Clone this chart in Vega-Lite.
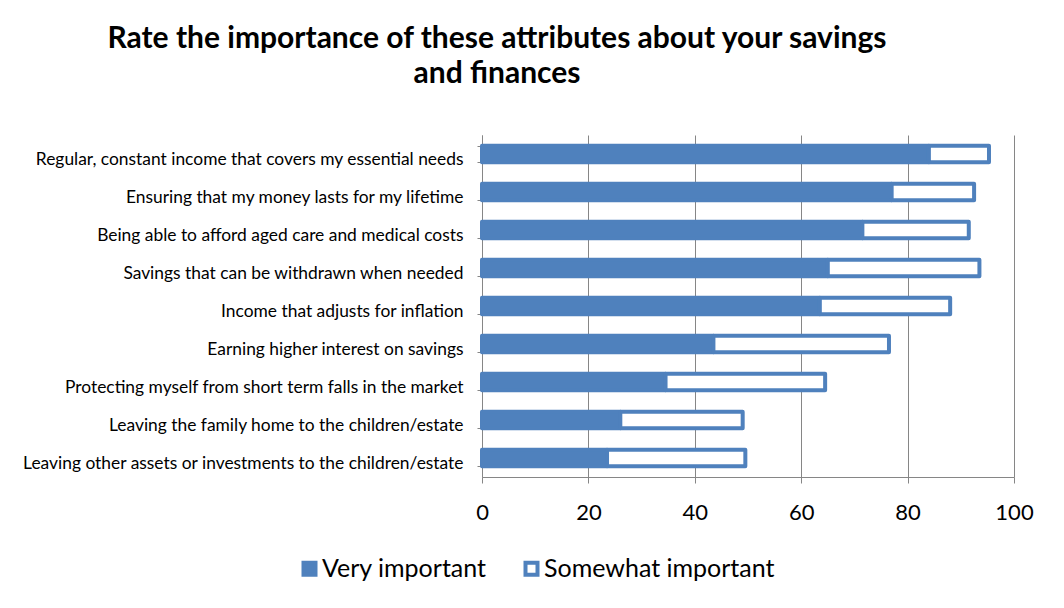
{
  "$schema": "https://vega.github.io/schema/vega-lite/v6.json",
  "width": 532,
  "height": 342,
  "autosize": {"type": "none"},
  "padding": {"left": 482, "top": 135, "right": 50, "bottom": 131},
  "background": "white",
  "title": {
    "text": ["Rate the importance of these attributes about your savings", "and finances"],
    "anchor": "middle",
    "frame": "group",
    "dx": -251,
    "offset": 37,
    "font": "Lato",
    "fontSize": 30,
    "fontWeight": "bold",
    "color": "#000000",
    "lineHeight": 35
  },
  "data": {
    "values": [
      {"attribute": "Regular, constant income that covers my essential needs", "series": "Very important", "ord": 0, "pct": 84},
      {"attribute": "Regular, constant income that covers my essential needs", "series": "Somewhat important", "ord": 1, "pct": 11.3},
      {"attribute": "Ensuring that my money lasts for my lifetime", "series": "Very important", "ord": 0, "pct": 77},
      {"attribute": "Ensuring that my money lasts for my lifetime", "series": "Somewhat important", "ord": 1, "pct": 15.5},
      {"attribute": "Being able to afford aged care and medical costs", "series": "Very important", "ord": 0, "pct": 71.5},
      {"attribute": "Being able to afford aged care and medical costs", "series": "Somewhat important", "ord": 1, "pct": 20},
      {"attribute": "Savings that can be withdrawn when needed", "series": "Very important", "ord": 0, "pct": 65},
      {"attribute": "Savings that can be withdrawn when needed", "series": "Somewhat important", "ord": 1, "pct": 28.5},
      {"attribute": "Income that adjusts for inflation", "series": "Very important", "ord": 0, "pct": 63.5},
      {"attribute": "Income that adjusts for inflation", "series": "Somewhat important", "ord": 1, "pct": 24.5},
      {"attribute": "Earning higher interest on savings", "series": "Very important", "ord": 0, "pct": 43.5},
      {"attribute": "Earning higher interest on savings", "series": "Somewhat important", "ord": 1, "pct": 33},
      {"attribute": "Protecting myself from short term falls in the market", "series": "Very important", "ord": 0, "pct": 34.5},
      {"attribute": "Protecting myself from short term falls in the market", "series": "Somewhat important", "ord": 1, "pct": 30},
      {"attribute": "Leaving the family home to the children/estate", "series": "Very important", "ord": 0, "pct": 26},
      {"attribute": "Leaving the family home to the children/estate", "series": "Somewhat important", "ord": 1, "pct": 23},
      {"attribute": "Leaving other assets or investments to the children/estate", "series": "Very important", "ord": 0, "pct": 23.5},
      {"attribute": "Leaving other assets or investments to the children/estate", "series": "Somewhat important", "ord": 1, "pct": 26}
    ]
  },
  "mark": {"type": "bar", "stroke": "#4F81BD", "strokeWidth": 4, "strokeJoin": "round"},
  "encoding": {
    "y": {
      "field": "attribute",
      "type": "nominal",
      "sort": null,
      "title": null,
      "scale": {"paddingInner": 0.57, "paddingOuter": 0.285},
      "axis": {
        "tickBand": "extent",
        "domainColor": "#868686",
        "tickColor": "#868686",
        "tickSize": 5,
        "labelPadding": 14,
        "labelFont": "Lato",
        "labelFontSize": 17.4,
        "labelColor": "#000000",
        "labelLimit": 600,
        "labelOffset": 5,
        "grid": false
      }
    },
    "x": {
      "field": "pct",
      "type": "quantitative",
      "stack": "zero",
      "title": null,
      "scale": {"domain": [0, 100], "nice": false},
      "axis": {
        "values": [0, 20, 40, 60, 80, 100],
        "grid": true,
        "gridColor": "#868686",
        "gridWidth": 1,
        "domainColor": "#868686",
        "tickColor": "#868686",
        "tickSize": 6,
        "labelPadding": 19,
        "labelFont": "Lato",
        "labelFontSize": 22,
        "labelColor": "#000000",
        "labelFlush": false
      }
    },
    "color": {
      "field": "series",
      "type": "nominal",
      "scale": {"domain": ["Very important", "Somewhat important"], "range": ["#4F81BD", "#FFFFFF"]},
      "legend": {
        "orient": "none",
        "legendX": -185,
        "legendY": 421,
        "direction": "horizontal",
        "title": null,
        "symbolType": "square",
        "symbolSize": 144,
        "symbolStrokeColor": "#4F81BD",
        "symbolStrokeWidth": 4,
        "symbolOpacity": 1,
        "labelFont": "Lato",
        "labelFontSize": 25,
        "labelColor": "#000000",
        "labelOffset": 0,
        "columnPadding": 30,
        "labelLimit": 400
      }
    },
    "order": {"field": "ord", "type": "quantitative"}
  },
  "config": {
    "view": {"stroke": null}
  }
}
